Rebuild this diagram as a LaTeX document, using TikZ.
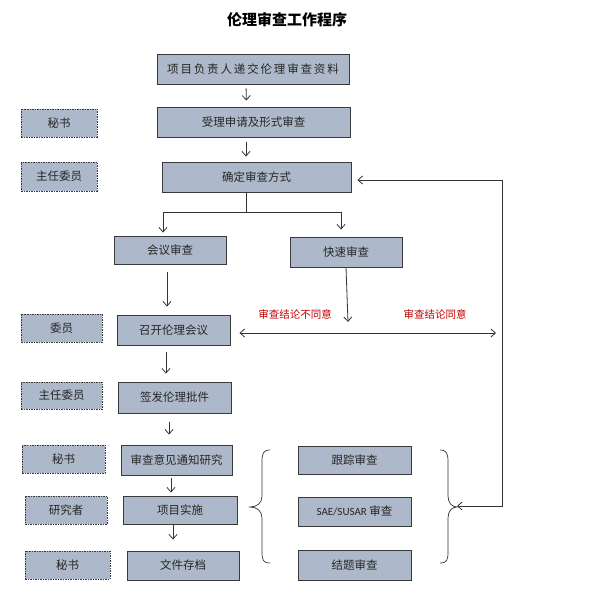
\documentclass[tikz,border=0pt]{standalone}
\usepackage{fontspec}
\setmainfont{Noto Sans CJK SC}
\newfontfamily\latinf{Carlito}
\usetikzlibrary{arrows.meta}
\definecolor{boxfill}{HTML}{ADB9CA}
\definecolor{boxline}{HTML}{3A3A3A}
\definecolor{lineclr}{HTML}{333333}
\definecolor{redtxt}{HTML}{C00000}
\tikzset{
  x=1pt, y=-1pt,
  box/.style={draw=boxline, line width=0.9pt, fill=boxfill, inner sep=0pt,
    font=\fontsize{11.5}{12}\selectfont, text=black!85},
  side/.style={box, dashed, dash pattern=on 1.5pt off 1pt, line width=0.7pt},
  arr/.style={draw=lineclr, line width=0.8pt, -{Straight Barb[length=4.5pt,width=8pt]}},
  plain/.style={draw=lineclr, line width=0.8pt},
  note/.style={text=redtxt, font=\fontsize{10.5}{11}\selectfont, inner sep=0pt}
}
\begin{document}
\begin{tikzpicture}
\useasboundingbox (0,0) rectangle (590,593);
\fill[white] (0,0) rectangle (590,593);
\node[font=\fontsize{15}{16}\selectfont\bfseries, inner sep=0pt] (title) at (287,20) {伦理审查工作程序};
% main column
\node[box, minimum width=192pt, minimum height=30pt] (b1) at (253,69) {\addfontfeatures{LetterSpace=16}项目负责人递交伦理审查资料};
\node[box, minimum width=193pt, minimum height=30pt] (b2) at (253.5,122) {受理申请及形式审查};
\node[box, minimum width=189pt, minimum height=30pt] (b3) at (256.5,177) {确定审查方式};
\node[box, minimum width=112pt, minimum height=28pt] (m1) at (170,250) {会议审查};
\node[box, minimum width=112pt, minimum height=30pt] (m2) at (346,252) {快速审查};
\node[box, minimum width=113pt, minimum height=30pt] (b4) at (173.5,330) {召开伦理会议};
\node[box, minimum width=113pt, minimum height=31pt] (b5) at (174.5,397.5) {签发伦理批件};
\node[box, minimum width=111pt, minimum height=30pt] (b6) at (176.5,460) {审查意见通知研究};
\node[box, minimum width=114pt, minimum height=28pt] (b7) at (180,510) {项目实施};
\node[box, minimum width=112pt, minimum height=29pt] (b8) at (183,565.5) {文件存档};
% side roles
\node[side, minimum width=76pt, minimum height=28pt] (s1) at (59,123) {秘书};
\node[side, minimum width=76pt, minimum height=29pt] (s2) at (59,176.5) {主任委员};
\node[side, minimum width=81pt, minimum height=28pt] (s3) at (61.5,328) {委员};
\node[side, minimum width=81pt, minimum height=27pt] (s4) at (61.5,395.5) {主任委员};
\node[side, minimum width=83pt, minimum height=28pt] (s5) at (63.5,459) {秘书};
\node[side, minimum width=82pt, minimum height=28pt] (s6) at (66,510) {研究者};
\node[side, minimum width=85pt, minimum height=28pt] (s7) at (67.5,565) {秘书};
% right column
\node[box, minimum width=113pt, minimum height=28pt] (r1) at (354.5,460) {跟踪审查};
\node[box, minimum width=113pt, minimum height=29pt] (r2) at (354.5,511.5) {{\latinf\fontsize{11}{12}\selectfont SAE/SUSAR} 审查};
\node[box, minimum width=113pt, minimum height=30pt] (r3) at (354.5,565) {结题审查};
% labels
\node[note] (n1) at (295,314) {审查结论不同意};
\node[note] (n2) at (435,314) {审查结论同意};
% coordinates
\coordinate (j) at (246,212);
\coordinate (jl) at (163,212);
\coordinate (jr) at (341,212);
\coordinate (fastend) at (348,322);
\coordinate (dright) at (496,333);
\coordinate (loopB) at (502,506);
\coordinate (loopT) at (502,180);
\coordinate (rtip) at (457,506);
% arrows main flow
\draw[arr, shorten <=4pt, shorten >=6pt] ([xshift=-7pt]b1.south) -- ([xshift=-7pt]b2.north);
\draw[arr, shorten <=5pt, shorten >=5pt] ([xshift=-7.5pt]b2.south) -- ([xshift=-10.5pt]b3.north);
\draw[plain] (b3.south -| j) -- (j);
\draw[plain] (jl) -- (jr);
\draw[arr, shorten >=3pt] (jl) -- (jl |- m1.north);
\draw[arr, shorten >=7pt] (jr) -- (jr |- m2.north);
\draw[arr, shorten <=8pt, shorten >=8pt] ([xshift=-3pt]m1.south) -- ([xshift=-6.5pt]b4.north);
\draw[arr] (m2.south) -- (fastend);
\draw[draw=lineclr, line width=0.8pt, {Straight Barb[length=4.5pt,width=8pt]}-{Straight Barb[length=4.5pt,width=8pt]}, shorten <=9pt] (b4.east |- dright) -- (dright);
\draw[arr, shorten <=7pt, shorten >=8pt] ([xshift=-7.5pt]b4.south) -- ([xshift=-8.5pt]b5.north);
\draw[arr, shorten <=9pt, shorten >=10pt] ([xshift=-5.5pt]b5.south) -- ([xshift=-7.5pt]b6.north);
\draw[arr, shorten <=3pt, shorten >=3pt] ([xshift=-5.5pt]b6.south) -- ([xshift=-9pt]b7.north);
\draw[arr, shorten <=1pt, shorten >=11pt] ([xshift=-7pt]b7.south) -- ([xshift=-10pt]b8.north);
% loop back
\draw[draw=lineclr, line width=0.8pt, {Straight Barb[length=4.5pt,width=8pt]}-{Straight Barb[length=4.5pt,width=8pt]}, shorten >=6pt]
  (rtip) -- (loopB) -- (loopT) -- (b3.east |- loopT);
% braces
\draw[draw=lineclr, line width=0.7pt] (270,450) .. controls (263,450) and (262,454) .. (262,462)
  -- (262,496) .. controls (262,503) and (257,507) .. (250,507)
  .. controls (257,507) and (262,511) .. (262,518)
  -- (262,552) .. controls (262,560) and (263,563) .. (270,563);
\draw[draw=lineclr, line width=0.7pt] (440,450) .. controls (447,450) and (448,454) .. (448,462)
  -- (448,496) .. controls (448,503) and (452,507) .. (457,507)
  .. controls (452,507) and (448,511) .. (448,518)
  -- (448,552) .. controls (448,560) and (447,563) .. (440,563);
\end{tikzpicture}
\end{document}
